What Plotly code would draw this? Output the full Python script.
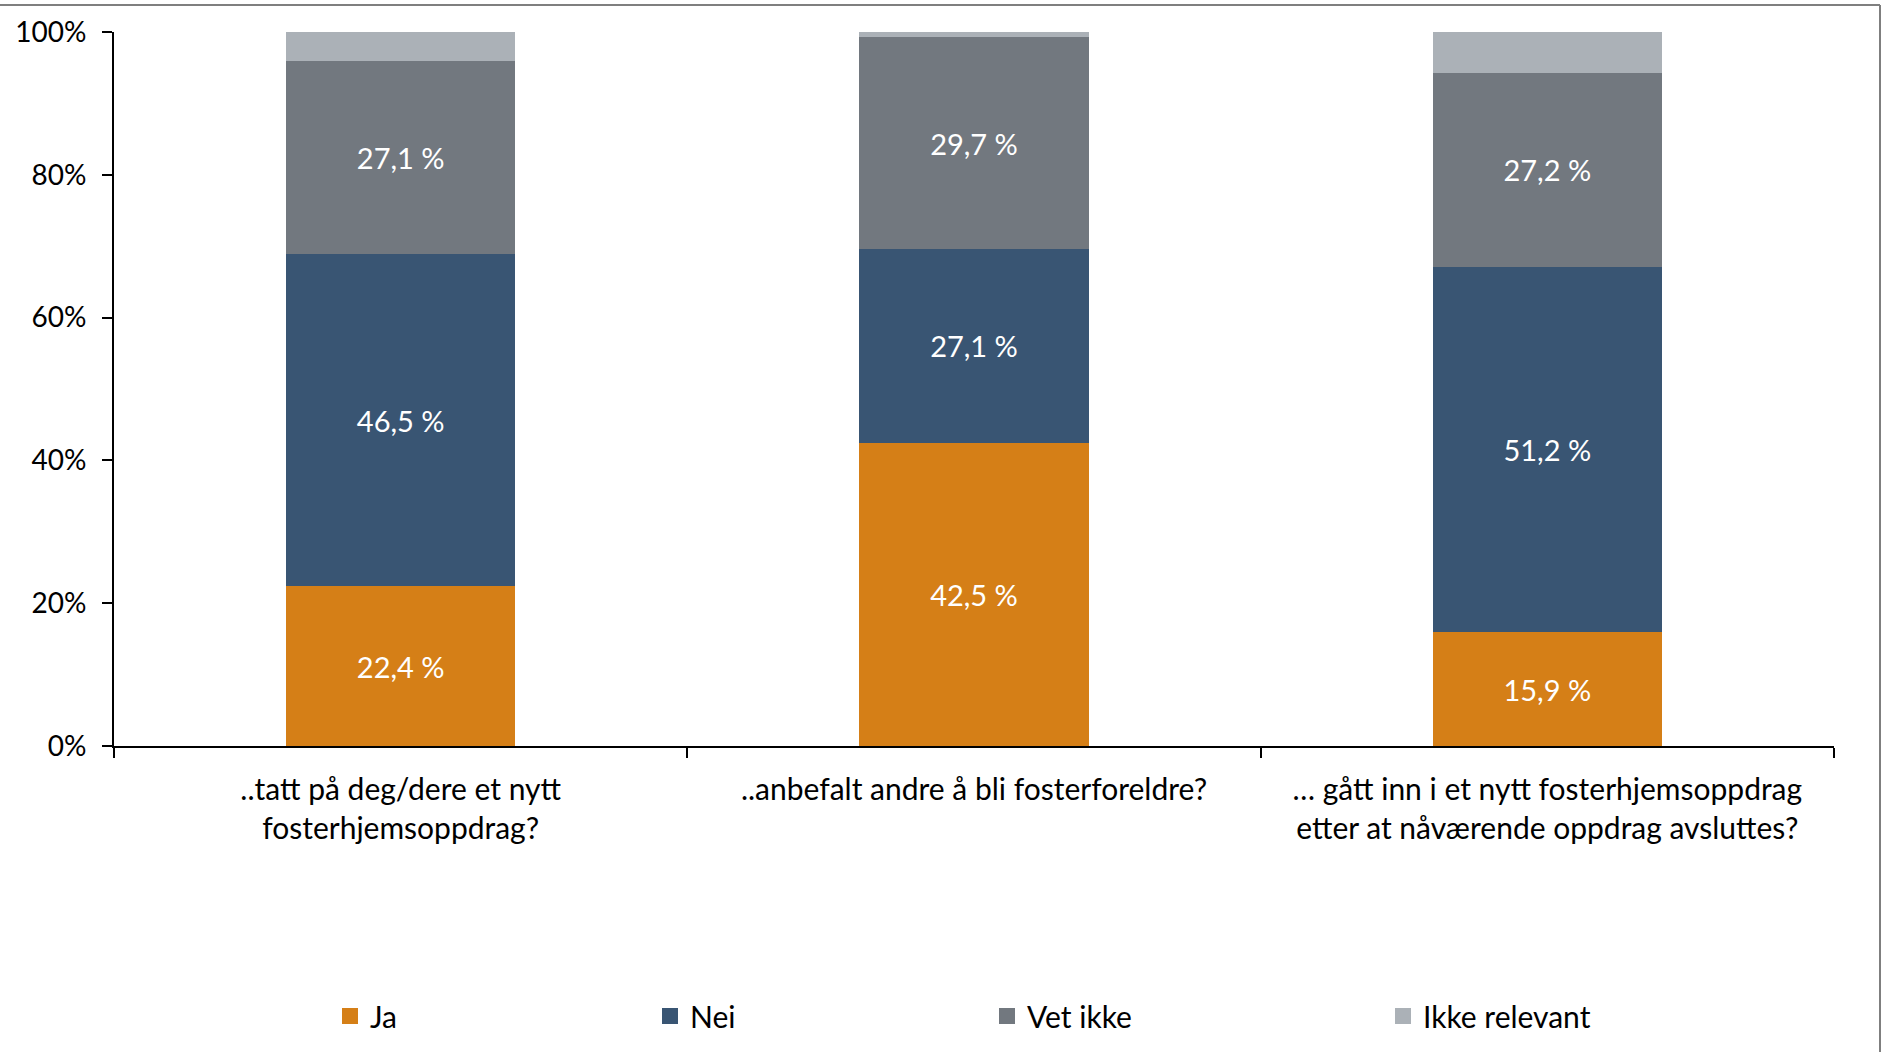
import plotly.graph_objects as go

categories = [
    "..tatt på deg/dere et nytt<br>fosterhjemsoppdrag?",
    "..anbefalt andre å bli fosterforeldre?",
    "… gått inn i et nytt fosterhjemsoppdrag<br>etter at nåværende oppdrag avsluttes?",
]
ja = [22.4, 42.5, 15.9]
nei = [46.5, 27.1, 51.2]
vet_ikke = [27.1, 29.7, 27.2]
ikke_relevant = [4.0, 0.7, 5.7]
y_ticks = [0, 20, 40, 60, 80, 100]

series = [
    ("Ja", ja, "#D57F17", True),
    ("Nei", nei, "#395573", True),
    ("Vet ikke", vet_ikke, "#72787F", True),
    ("Ikke relevant", ikke_relevant, "#ABB1B7", False),
]

W, H = 1883, 1052
L, R, T, B = 114, 49, 32, 306
PW, PH = W - L - R, H - T - B

def px_x(p):
    return (p - L) / PW

def px_y(p):
    return (H - B - p) / PH

FONT = "Lato"
fig = go.Figure()
legend_names = ["legend", "legend2", "legend3", "legend4"]
for i, (name, vals, color, show_text) in enumerate(series):
    fig.add_trace(go.Bar(
        x=categories, y=vals, name=name,
        marker=dict(color=color, line=dict(width=0)),
        width=0.40,
        texttemplate="%{y:.1f} %" if show_text else "",
        textposition="inside" if show_text else "none",
        insidetextanchor="middle",
        textfont=dict(color="white", size=29, family=FONT),
        constraintext="none",
        showlegend=False,
    ))
    # legend entry with a larger square swatch
    fig.add_trace(go.Scatter(
        x=[None], y=[None], mode="markers", name=name,
        marker=dict(symbol="square", size=16, color=color),
        legend=legend_names[i], showlegend=True, hoverinfo="skip",
    ))

leg_centers = [350, 670, 1007, 1403]
legend_cfg = {}
for i, c in enumerate(leg_centers):
    legend_cfg[legend_names[i]] = dict(
        x=px_x(c - 20), y=px_y(1016), xanchor="left", yanchor="middle",
        orientation="h", font=dict(size=30, family=FONT, color="black"),
        bgcolor="rgba(0,0,0,0)", itemclick=False, itemdoubleclick=False,
        itemsizing="trace", itemwidth=30,
    )

fig.update_layout(
    width=W, height=H,
    margin=dict(l=L, r=R, t=T, b=B, autoexpand=False),
    barmode="stack",
    separators=", ",
    plot_bgcolor="white", paper_bgcolor="white",
    font=dict(family=FONT, size=28, color="black"),
    xaxis=dict(
        type="category", tickson="boundaries", ticks="outside", ticklen=10,
        tickcolor="black", tickwidth=1.5,
        showline=True, linecolor="black", linewidth=2,
        tickfont=dict(size=30, family=FONT), ticklabelstandoff=16,
        showgrid=False,
    ),
    yaxis=dict(
        range=[0, 100], tickvals=y_ticks, ticktext=[f"{v}%" for v in y_ticks],
        ticks="outside", ticklen=10, tickcolor="black", tickwidth=1.5,
        showline=True, linecolor="black", linewidth=2,
        showgrid=False, zeroline=False,
        tickfont=dict(size=28, family=FONT), ticklabelstandoff=10,
    ),
    shapes=[
        dict(type="line", xref="paper", yref="paper",
             x0=px_x(0), x1=px_x(1880), y0=px_y(5), y1=px_y(5),
             line=dict(color="#7F7F7F", width=2)),
        dict(type="line", xref="paper", yref="paper",
             x0=px_x(1880), x1=px_x(1880), y0=px_y(5), y1=px_y(1052),
             line=dict(color="#7F7F7F", width=2)),
    ],
    **legend_cfg,
)

fig.write_html(
    "out.html",
    config={"displayModeBar": False},
    post_script="document.body.style.margin='0px';document.body.style.overflow='hidden';",
)
